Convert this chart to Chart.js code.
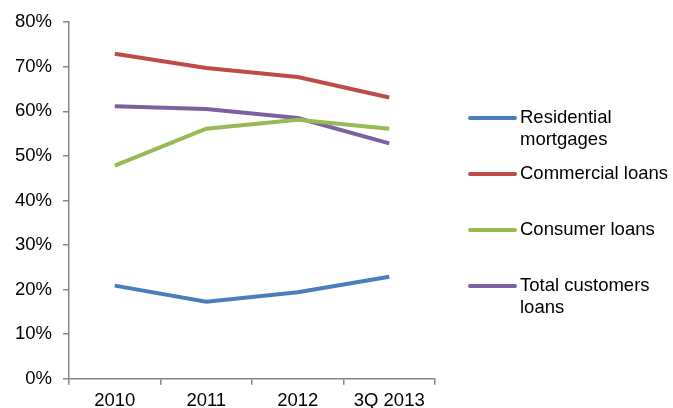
<!DOCTYPE html>
<html>
<head>
<meta charset="utf-8">
<script src="https://cdn.jsdelivr.net/npm/chart.js@4/dist/chart.umd.min.js"></script>
<style>
  html, body { margin: 0; padding: 0; background: #fff; }
  #wrap { width: 673px; height: 408px; }
</style>
</head>
<body>
<div id="wrap"><canvas id="loanChart" width="673" height="408"></canvas></div>
<script>
// categories
var categories = ['2010', '2011', '2012', '3Q 2013']

// series values (%)
var residentialMortgages = [20.9, 17.3, 19.4, 22.9]
var commercialLoans = [72.9, 69.7, 67.7, 63.1]
var consumerLoans = [47.8, 56.1, 58.1, 56.1]
var totalCustomerLoans = [61.1, 60.5, 58.5, 52.8]

// series names and colours
var seriesNames = [['Residential', 'mortgages'], ['Commercial loans'], ['Consumer loans'], ['Total customers', 'loans']]
var seriesColors = ['#4A7EBB', '#BE4B48', '#98B954', '#7D60A0']

var fontFamily = 'Arial, "Liberation Sans", sans-serif'
var axisGray = '#868686'

function makeSet(i, values) {
  return {
    label: seriesNames[i].join(' '),
    data: values,
    borderColor: seriesColors[i],
    backgroundColor: seriesColors[i],
    borderWidth: 4,
    pointRadius: 0,
    tension: 0,
    fill: false
  }
}

// legend drawn to the right of the plot
var sideLegend = {
  id: 'sideLegend',
  afterDraw: function (chart) {
    var ctx = chart.ctx
    ctx.save()
    ctx.font = '18.5px ' + fontFamily
    ctx.fillStyle = '#000'
    ctx.textBaseline = 'middle'
    chart.data.datasets.forEach(function (ds, i) {
      var y = 118 + i * 56
      ctx.strokeStyle = ds.borderColor
      ctx.lineWidth = 4
      ctx.lineCap = 'round'
      ctx.beginPath()
      ctx.moveTo(470, y)
      ctx.lineTo(515, y)
      ctx.stroke()
      seriesNames[i].forEach(function (line, j) {
        ctx.fillText(line, 520, y + j * 22)
      })
    })
    ctx.restore()
  }
}

var ctx = document.getElementById('loanChart').getContext('2d')

var loanChart = new Chart(ctx, {
  type: 'line',
  data: {
    labels: categories,
    datasets: [
      makeSet(0, residentialMortgages),
      makeSet(1, commercialLoans),
      makeSet(2, consumerLoans),
      makeSet(3, totalCustomerLoans)
    ]
  },
  options: {
    responsive: false,
    animation: false,
    layout: { padding: { left: 4, right: 238, top: 12, bottom: -9 } },
    plugins: {
      legend: { display: false },
      tooltip: { enabled: false }
    },
    scales: {
      x: {
        offset: true,
        grid: {
          display: true,
          offset: true,
          drawOnChartArea: false,
          drawTicks: true,
          tickLength: 6,
          color: axisGray,
          lineWidth: 1.5
        },
        border: { display: true, color: axisGray, width: 1.5 },
        ticks: {
          color: '#000',
          padding: 5,
          maxRotation: 0,
          font: { family: fontFamily, size: 18.5 }
        }
      },
      y: {
        min: 0,
        max: 80,
        grid: {
          display: true,
          drawOnChartArea: false,
          drawTicks: true,
          tickLength: 6,
          color: axisGray,
          lineWidth: 1.5
        },
        border: { display: true, color: axisGray, width: 1.5 },
        ticks: {
          stepSize: 10,
          color: '#000',
          padding: 11,
          font: { family: fontFamily, size: 18.5 },
          callback: function (v) { return v + '%' }
        }
      }
    }
  },
  plugins: [sideLegend]
})
</script>
</body>
</html>
